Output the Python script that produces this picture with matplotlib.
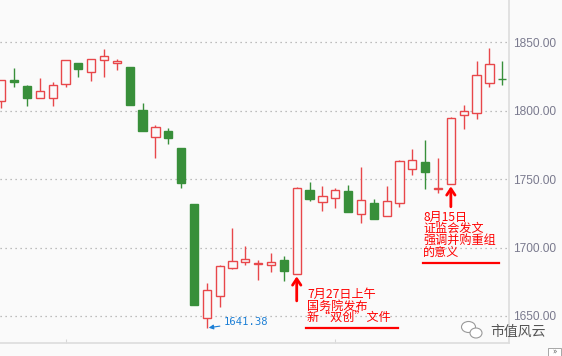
import matplotlib
matplotlib.use("Agg")
import matplotlib.pyplot as plt
from matplotlib.patches import Ellipse, Rectangle
from matplotlib.lines import Line2D

plt.rcParams['font.family'] = ['Noto Sans CJK SC', 'DejaVu Sans']

# daily candles
opens = [1806.9, 1822.1, 1818.1, 1809.1, 1809.1, 1819.3, 1834.9, 1828.1, 1836.8, 1834.6,
         1831.9, 1800.3, 1780.6, 1785.2, 1772.7, 1731.8, 1648.2, 1664.3, 1685.2, 1689.6,
         1687.8, 1687.4, 1690.9, 1680.4, 1742.0, 1733.0, 1736.4, 1741.3, 1724.5, 1732.3,
         1723.2, 1732.7, 1757.4, 1762.5, 1743.0, 1746.2, 1797.1, 1798.1, 1820.0, 1823.2]
closes = [1822.4, 1821.0, 1809.5, 1814.2, 1818.6, 1836.8, 1830.7, 1837.6, 1839.8, 1836.1,
          1804.4, 1785.4, 1787.9, 1780.3, 1747.4, 1658.0, 1668.9, 1686.5, 1690.1, 1691.6,
          1688.8, 1689.2, 1683.0, 1743.3, 1735.7, 1737.4, 1741.8, 1726.2, 1734.5, 1721.1,
          1734.0, 1763.2, 1764.0, 1755.2, 1743.4, 1794.4, 1799.8, 1825.9, 1834.1, 1823.0]
highs = [1822.4, 1831.2, 1818.8, 1823.9, 1821.0, 1836.8, 1834.9, 1837.6, 1845.1, 1837.6,
         1831.9, 1805.6, 1789.5, 1787.4, 1772.7, 1731.8, 1673.8, 1687.2, 1714.3, 1701.1,
         1690.9, 1696.0, 1693.8, 1744.4, 1747.9, 1744.7, 1743.3, 1745.7, 1758.8, 1735.2,
         1744.9, 1764.0, 1772.0, 1778.6, 1765.4, 1795.2, 1803.9, 1836.3, 1845.8, 1836.3]
lows = [1802.2, 1817.5, 1803.7, 1809.1, 1803.7, 1817.5, 1824.9, 1821.9, 1824.9, 1830.0,
        1804.4, 1785.4, 1765.6, 1775.9, 1743.7, 1658.0, 1641.38, 1656.7, 1684.3, 1687.2,
        1676.2, 1682.3, 1675.7, 1680.4, 1734.2, 1726.9, 1729.1, 1726.2, 1718.1, 1721.1,
        1722.8, 1729.8, 1753.0, 1742.8, 1739.6, 1746.2, 1786.8, 1794.2, 1817.5, 1818.8]
y_ticks = [1650, 1700, 1750, 1800, 1850]
min_idx = 16
event1_idx = 23
event2_idx = 35
event1_text = ["7月27日上午", "国务院发布", "新“双创”文件"]
event2_text = ["8月15日", "证监会发文", "强调并购重组", "的意义"]

W, H = 562, 356
bg = '#fafafa'
red = '#e8474a'
green = '#388f3a'

fig = plt.figure(figsize=(W / 100, H / 100), dpi=100, facecolor=bg)
ax = fig.add_axes([0, 12.7 / H, 509.3 / W, 343.3 / H], facecolor=bg)

# Draw candles
for i in range(len(opens)):
    o, c, hi, lo = opens[i], closes[i], highs[i], lows[i]
    col = red if c >= o else green
    ax.vlines(i, lo, hi, color=col, linewidth=1.0, zorder=2)
    bottom = min(o, c)
    height = max(abs(c - o), 0.4)
    face = bg if c >= o else green
    ax.bar(i, height, bottom=bottom, width=0.64, color=face, edgecolor=col,
           linewidth=1.0, zorder=3)

# Axes, grid, ticks
ax.set_xlim(-0.1, 39.55)
ax.set_ylim(1630.0, 1880.9)
ax.yaxis.tick_right()
ax.set_yticks(y_ticks)
ax.set_yticklabels([f"{v:.2f}" for v in y_ticks], family='Liberation Sans', fontsize=8.6, color='#7a7a8e')
ax.tick_params(axis='y', length=0, pad=3)
ax.set_xticks([5, 26])
ax.set_xticklabels([])
ax.tick_params(axis='x', direction='in', length=3, color='#d8d8d8')
ax.grid(axis='y', linestyle=(0, (1, 3)), color='#aaaaaa', linewidth=0.9)
ax.set_axisbelow(True)
for side in ['left', 'top']:
    ax.spines[side].set_visible(False)
for side in ['right', 'bottom']:
    ax.spines[side].set_color('#dddddd')
    ax.spines[side].set_linewidth(1.2)

# Annotate minimum
ax.annotate(f"{lows[min_idx]:.2f}", xy=(min_idx + 0.15, lows[min_idx]),
            xytext=(224 / W, 1 - 322.3 / H), textcoords='figure fraction',
            ha='left', va='center', fontsize=7.6, family='DejaVu Sans Mono', color='#1c7fd6',
            arrowprops=dict(arrowstyle='-|>,head_length=0.35,head_width=0.18',
                            color='#1c7fd6', lw=0.8, shrinkA=1, shrinkB=0))

# Event arrows
for idx, tail in [(event1_idx, 1661.0), (event2_idx, 1729.8)]:
    ax.annotate('', xy=(idx, lows[idx] - 1.5), xytext=(idx, tail),
                arrowprops=dict(arrowstyle='->,head_length=0.45,head_width=0.3',
                                color='#ff0000', lw=2.0, shrinkA=0, shrinkB=0))


def note(lines, x, top, pitch, ux0, ux1, uy):
    for k, s in enumerate(lines):
        fig.text(x / W, 1 - (top + pitch * k) / H, s, ha='left', va='top',
                 fontsize=8.7, color='#ff0000')
    fig.add_artist(Line2D([ux0 / W, ux1 / W], [1 - uy / H, 1 - uy / H],
                          color='#ff0000', linewidth=1.6))


note(event1_text, 307, 287.5, 12.0, 306, 397.7, 327.7)
note(event2_text, 423, 210.5, 11.7, 423.3, 499.3, 263.3)

# Watermark
fig.add_artist(Ellipse((468.5 / W, 1 - 327 / H), 14 / W, 11 / H, facecolor='white',
                       edgecolor='#9a9a9a', linewidth=0.8, transform=fig.transFigure))
fig.add_artist(Ellipse((476 / W, 1 - 333 / H), 12 / W, 10 / H, facecolor='white',
                       edgecolor='#9a9a9a', linewidth=0.8, transform=fig.transFigure))
fig.text(490 / W, 1 - 331.5 / H, "市值风云", ha='left', va='center', fontsize=10,
         color='#555555')

# Small scroll box in the corner
fig.add_artist(Rectangle((548 / W, 0), 13 / W, 8 / H, facecolor='white',
                         edgecolor='#999999', linewidth=0.6, transform=fig.transFigure))
fig.text(554.5 / W, 0.5 / H, "»", ha='center', va='bottom', fontsize=6, color='#555555')

fig.savefig("out.png", dpi=100, facecolor=bg)
